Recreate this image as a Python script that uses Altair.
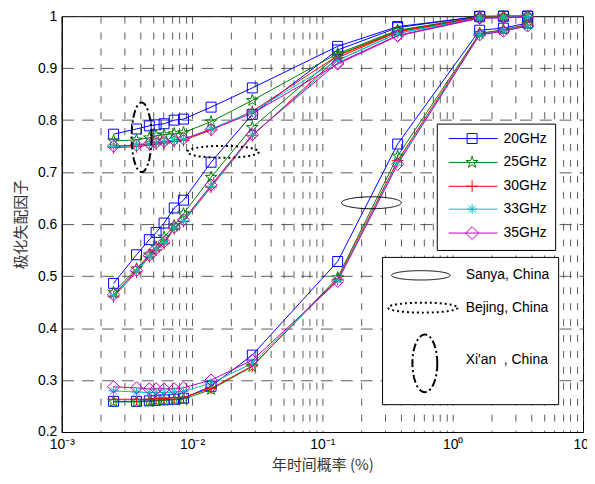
import altair as alt
import pandas as pd
import numpy as np

# ---------------- data ----------------
x_pct = [0.0025, 0.00375, 0.0047, 0.0053, 0.0061, 0.0073, 0.0086, 0.014, 0.029, 0.131, 0.378, 1.61, 2.45, 3.76]
freqs = ["20GHz", "25GHz", "30GHz", "33GHz", "35GHz"]
cities = ["Sanya, China", "Bejing, China", "Xi'an\u00a0\u00a0, China"]

sanya_20 = [0.259, 0.259, 0.260, 0.261, 0.262, 0.263, 0.265, 0.288, 0.348, 0.528, 0.754, 0.973, 0.977, 0.987]
sanya_25 = [0.258, 0.258, 0.259, 0.260, 0.261, 0.262, 0.263, 0.282, 0.326, 0.497, 0.731, 0.967, 0.974, 0.984]
sanya_30 = [0.263, 0.263, 0.263, 0.264, 0.265, 0.266, 0.267, 0.284, 0.327, 0.494, 0.722, 0.966, 0.973, 0.983]
sanya_33 = [0.279, 0.277, 0.276, 0.276, 0.276, 0.277, 0.278, 0.294, 0.332, 0.492, 0.718, 0.965, 0.972, 0.982]
sanya_35 = [0.287, 0.285, 0.283, 0.283, 0.283, 0.283, 0.285, 0.300, 0.338, 0.490, 0.715, 0.964, 0.971, 0.981]

beijing_20 = [0.486, 0.541, 0.570, 0.584, 0.602, 0.631, 0.646, 0.719, 0.811, 0.935, 0.978, 1.000, 1.000, 1.000]
beijing_25 = [0.469, 0.514, 0.541, 0.556, 0.575, 0.597, 0.620, 0.690, 0.786, 0.925, 0.972, 0.999, 0.999, 1.000]
beijing_30 = [0.460, 0.508, 0.537, 0.550, 0.562, 0.591, 0.605, 0.671, 0.770, 0.920, 0.970, 0.998, 0.998, 0.999]
beijing_33 = [0.462, 0.509, 0.538, 0.551, 0.564, 0.592, 0.606, 0.673, 0.771, 0.915, 0.967, 0.997, 0.998, 0.999]
beijing_35 = [0.464, 0.511, 0.540, 0.553, 0.566, 0.594, 0.608, 0.675, 0.772, 0.910, 0.963, 0.997, 0.997, 0.999]

xian_20 = [0.773, 0.783, 0.789, 0.791, 0.793, 0.800, 0.802, 0.825, 0.862, 0.942, 0.980, 0.999, 1.000, 1.000]
xian_25 = [0.760, 0.762, 0.766, 0.770, 0.772, 0.774, 0.776, 0.797, 0.838, 0.928, 0.973, 0.998, 0.999, 1.000]
xian_30 = [0.747, 0.749, 0.752, 0.754, 0.756, 0.759, 0.761, 0.781, 0.817, 0.924, 0.970, 0.997, 0.998, 0.999]
xian_33 = [0.749, 0.751, 0.754, 0.756, 0.758, 0.761, 0.763, 0.783, 0.816, 0.915, 0.967, 0.996, 0.998, 0.999]
xian_35 = [0.750, 0.752, 0.755, 0.757, 0.759, 0.762, 0.764, 0.782, 0.813, 0.908, 0.962, 0.996, 0.997, 0.999]

# annotation ellipse centres (data coordinates)
ann_x = [0.238, 0.0173, 0.0041]
ann_y = [0.641, 0.739, 0.767]

x_ticks_major = [0.001, 0.01, 0.1, 1, 10]
x_tick_labels = ["10\u207b\u00b3", "10\u207b\u00b2", "10\u207b\u00b9", "10\u2070", "10\u00b9"]
y_ticks = [0.2, 0.3, 0.4, 0.5, 0.6, 0.7, 0.8, 0.9, 1.0]

# ---------------- table ----------------
series = {
    (cities[0], "20GHz"): sanya_20, (cities[0], "25GHz"): sanya_25, (cities[0], "30GHz"): sanya_30,
    (cities[0], "33GHz"): sanya_33, (cities[0], "35GHz"): sanya_35,
    (cities[1], "20GHz"): beijing_20, (cities[1], "25GHz"): beijing_25, (cities[1], "30GHz"): beijing_30,
    (cities[1], "33GHz"): beijing_33, (cities[1], "35GHz"): beijing_35,
    (cities[2], "20GHz"): xian_20, (cities[2], "25GHz"): xian_25, (cities[2], "30GHz"): xian_30,
    (cities[2], "33GHz"): xian_33, (cities[2], "35GHz"): xian_35,
}
rows = []
for (c, f), ys in series.items():
    for xv, yv in zip(x_pct, ys):
        rows.append({"x": xv, "y": yv, "freq": f, "city": c})
df = pd.DataFrame(rows)
df_ann = pd.DataFrame({"x": ann_x, "y": ann_y, "city": cities})

# ---------------- marker / symbol geometry ----------------
def star_pts(cx, r):
    pts = []
    for i in range(10):
        ang = np.deg2rad(-90 + 36 * i)
        rr = r if i % 2 == 0 else r * 0.382
        pts.append((cx + rr * np.cos(ang), rr * np.sin(ang)))
    return "M " + " L ".join(f"{a:.3f} {b:.3f}" for a, b in pts) + " Z"

def ellipse_path(cx, rx, ry, cy=0.0, n=72):
    t = np.linspace(0, 2 * np.pi, n, endpoint=False)
    return "M " + " L ".join(f"{cx + rx*np.cos(a):.3f} {cy + ry*np.sin(a):.3f}" for a in t) + " Z"

def asterisk(cx, r):
    d = r * 0.707
    return (f"M {cx-r} 0 L {cx+r} 0 M {cx} {-r} L {cx} {r} "
            f"M {cx-d} {-d} L {cx+d} {d} M {cx-d} {d} L {cx+d} {-d}")

mk_shapes = ["square", star_pts(0, 1), "M -1 0 L 1 0 M 0 -1 L 0 1", asterisk(0, 1), "diamond"]
mk_sizes = [100, 150, 144, 100, 150]

mc = 4.1  # legend marker centre in symbol units
line_seg = "M -0.6 0 L 9.2 0 "
leg_paths = [
    line_seg + f"M {mc-1} -1 L {mc+1} -1 L {mc+1} 1 L {mc-1} 1 Z",
    line_seg + star_pts(mc, 1.25),
    line_seg + f"M {mc-1.2} 0 L {mc+1.2} 0 M {mc} -1.2 L {mc} 1.2",
    line_seg + asterisk(mc, 1.0),
    line_seg + f"M {mc} -1.3 L {mc+1.3} 0 L {mc} 1.3 L {mc-1.3} 0 Z",
]

colors = ["#0000FF", "#008000", "#FF0000", "#00BFBF", "#BF00BF"]
color_scale = alt.Scale(domain=freqs, range=colors)

# ---------------- encodings ----------------
x_grid_vals = [a * 10.0 ** k for k in range(-3, 1) for a in range(1, 10)] + [10.0]
label_expr = " : ".join(
    f"datum.value > {v*0.999} && datum.value < {v*1.001} ? '{lab}'" for v, lab in zip(x_ticks_major, x_tick_labels)
) + " : ''"

X = alt.X("x:Q", scale=alt.Scale(type="log", domain=[0.001, 10]),
          axis=alt.Axis(values=x_grid_vals, labelExpr=label_expr, title="年时间概率 (%)",
                        grid=True, gridDash=[7, 9], ticks=False, labelPadding=6,
                        titlePadding=6, labelFlush=False, labelOverlap=False))
Y = alt.Y("y:Q", scale=alt.Scale(domain=[0.2, 1.0]),
          axis=alt.Axis(values=y_ticks, format="~g", title="极化失配因子", grid=True,
                        gridDash=[12, 8], ticks=False, labelPadding=5, titlePadding=9))

base = alt.Chart(df).encode(x=X, y=Y)

line_layers = []
point_layers = []
for f, col, shp, sz in zip(freqs, colors, mk_shapes, mk_sizes):
    sub = base.transform_filter(alt.datum.freq == f)
    line_layers.append(sub.mark_line(strokeWidth=1, color=col).encode(detail="city:N"))
    point_layers.append(
        sub.mark_point(shape=shp, size=sz, filled=False, opacity=1, strokeWidth=1, color=col)
    )

freq_legend = alt.Legend(title=None, orient="none", legendX=377, legendY=108,
                         fillColor="white", strokeColor="black", padding=8,
                         symbolSize=100, symbolStrokeWidth=1, labelOffset=45,
                         rowPadding=8, labelFont="Liberation Sans", labelFontSize=14,
                         labelColor="black")
leg_freq = base.transform_filter("false").mark_point(filled=False, opacity=1, size=100, strokeWidth=1).encode(
    color=alt.Color("freq:N", scale=color_scale, legend=freq_legend),
    shape=alt.Shape("freq:N", scale=alt.Scale(domain=freqs, range=leg_paths), legend=freq_legend),
)

freq_group = alt.layer(*line_layers, *point_layers, leg_freq)

# in-plot ellipses
ann_shapes = [ellipse_path(0, 30 / 35, 6 / 35), ellipse_path(0, 36 / 35, 6 / 35), ellipse_path(0, 10 / 35, 1.0)]
ann_dash = [[1, 0], [2, 3], [8, 3, 2, 3]]
ann_width = [1, 2, 2]
ann_layers = []
abase = alt.Chart(df_ann).encode(x=X, y=Y)
for c, shp, dsh, w in zip(cities, ann_shapes, ann_dash, ann_width):
    ann_layers.append(
        abase.transform_filter(alt.datum.city == c)
        .mark_point(shape=shp, size=4900, filled=False, opacity=1, color="black",
                    strokeWidth=w, strokeDash=dsh)
    )

city_leg_paths = [ellipse_path(2.0, 2.95, 0.47), ellipse_path(2.2, 3.5, 0.5),
                  ellipse_path(2.4, 1.25, 2.9, cy=0.3)]
city_legend = alt.Legend(title=None, orient="none", legendX=322, legendY=242,
                         fillColor="white", strokeColor="black", padding=8,
                         symbolSize=400, labelOffset=54, rowPadding=14,
                         labelFont="Liberation Sans", labelFontSize=14, labelColor="black",
                         symbolStrokeColor="black")
leg_city = abase.transform_filter("false").mark_point(filled=False, opacity=1, size=400, color="black").encode(
    shape=alt.Shape("city:N", scale=alt.Scale(domain=cities, range=city_leg_paths), legend=city_legend),
    strokeDash=alt.StrokeDash("city:N", scale=alt.Scale(domain=cities, range=ann_dash), legend=city_legend),
    strokeWidth=alt.StrokeWidth("city:N", scale=alt.Scale(type="ordinal", domain=cities, range=ann_width),
                                legend=city_legend),
)

city_group = alt.layer(*ann_layers, leg_city)

chart = (
    alt.layer(freq_group, city_group)
    .resolve_scale(color="independent", shape="independent", strokeDash="independent",
                   strokeWidth="independent")
    .properties(width=524, height=418,
                padding={"left": 54, "top": 7, "right": 4, "bottom": 43},
                autosize=alt.AutoSizeParams(type="none"))
    .configure_view(stroke="black", strokeWidth=1)
    .configure_axis(domainColor="black", domainWidth=1, gridColor="#333333", gridOpacity=1,
                    gridWidth=0.8, labelFont="Liberation Sans", labelFontSize=14,
                    labelColor="black", titleFont="Noto Sans CJK SC", titleFontSize=15,
                    titleFontWeight="normal", titleColor="#333333")
)

chart.save("out.html", embed_options={"renderer": "svg", "actions": False})
